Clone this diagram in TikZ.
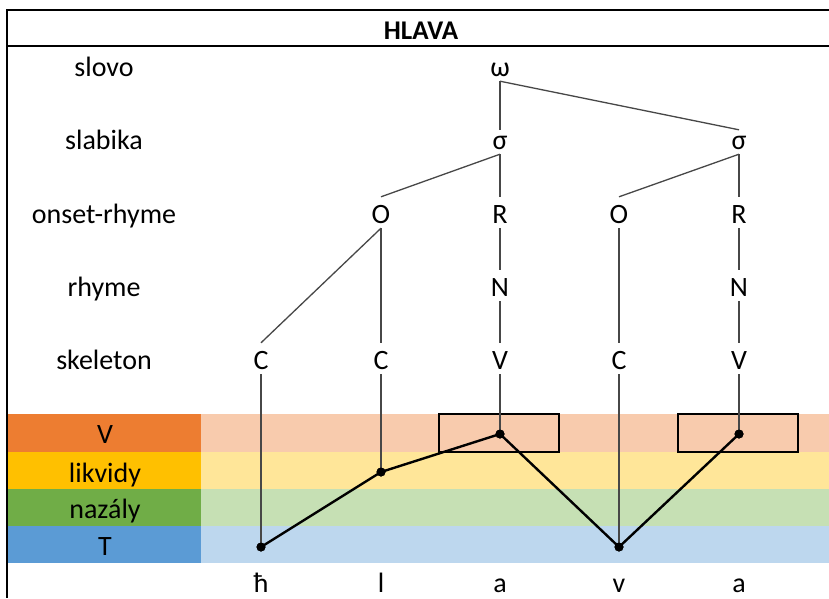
\documentclass[tikz,border=0pt]{standalone}
\usepackage{fontspec}
\setmainfont{Carlito}
\definecolor{vdark}{HTML}{ED7D31}\definecolor{vlight}{HTML}{F8CBAD}
\definecolor{ldark}{HTML}{FFC000}\definecolor{llight}{HTML}{FFE699}
\definecolor{ndark}{HTML}{70AD47}\definecolor{nlight}{HTML}{C6E0B4}
\definecolor{tdark}{HTML}{5B9BD5}\definecolor{tlight}{HTML}{BDD7EE}
\begin{document}
\begin{tikzpicture}[x=1pt,y=-1pt,
  font=\fontsize{28}{33}\selectfont,
  lab/.style={inner sep=0pt, anchor=base, text height=26pt, text depth=5pt},
  greek/.style={lab, text height=19pt},
  txt/.style={inner sep=0pt, anchor=base},
  tree/.style={draw=black!72, line width=1.3pt},
  pathline/.style={draw=black, line width=2.4pt, line join=round},
  dot/.style={circle, fill=black, inner sep=0pt, minimum size=9pt},
  vbox/.style={draw=black, line width=2.2pt, minimum width=120pt, minimum height=38pt, inner sep=0pt},
  border/.style={draw=black, line width=2pt}]
\useasboundingbox (0,0) rectangle (829,598);
\fill[white] (0,0) rectangle (829,598);
% bands
\fill[vdark] (8,414) rectangle (201,452); \fill[vlight] (201,414) rectangle (829,452);
\fill[ldark] (8,452) rectangle (201,489); \fill[llight] (201,452) rectangle (829,489);
\fill[ndark] (8,489) rectangle (201,526); \fill[nlight] (201,489) rectangle (829,526);
\fill[tdark] (8,526) rectangle (201,563); \fill[tlight] (201,526) rectangle (829,563);
% borders
\draw[border] (7,10) -- (829,10);
\draw[border] (7,46) -- (829,46);
\draw[border] (7,9) -- (7,598);
% title
\node[txt, font=\fontsize{27}{32}\selectfont\bfseries] (title) at (421,39) {HLAVA};
% row labels
\node[txt] (lslovo) at (104,76) {slovo};
\node[txt] (lslab) at (104,149) {slabika};
\node[txt] (lons) at (104,223) {onset-rhyme};
\node[txt] (lrhy) at (104,296) {rhyme};
\node[txt] (lske) at (104,369) {skeleton};
\node[txt] (lV) at (105,443) {V};
\node[txt] (llik) at (105,482) {likvidy};
\node[txt] (lnaz) at (105,518) {nazály};
\node[txt] (lT) at (105,555) {T};
% tree
\node[greek] (w) at (500,76) {ω};
\node[greek] (s1) at (500,149) {σ};
\node[greek] (s2) at (739,149) {σ};
\node[lab] (o1) at (381,223) {O};
\node[lab] (r1) at (500,223) {R};
\node[lab] (o2) at (619,223) {O};
\node[lab] (r2) at (739,223) {R};
\node[lab] (n1) at (500,296) {N};
\node[lab] (n2) at (739,296) {N};
\node[lab] (c1) at (261,369) {C};
\node[lab] (c2) at (381,369) {C};
\node[lab] (v1) at (500,369) {V};
\node[lab] (c3) at (619,369) {C};
\node[lab] (v2) at (739,369) {V};
% boxes
\node[vbox] (b1) at (499,433) {};
\node[vbox] (b2) at (738,433) {};
% dots
\node[dot] (d1) at (261,547) {};
\node[dot] (d2) at (381,472) {};
\node[dot] (d3) at (500,434) {};
\node[dot] (d4) at (619,547) {};
\node[dot] (d5) at (739,434) {};
% tree edges
\draw[tree] (w.south) -- (s1.north);
\draw[tree] (w.south) -- (s2.north);
\draw[tree] (s1.south) -- (o1.north);
\draw[tree] (s1.south) -- (r1.north);
\draw[tree] (s2.south) -- (o2.north);
\draw[tree] (s2.south) -- (r2.north);
\draw[tree] (r1.south) -- (n1.north);
\draw[tree] (r2.south) -- (n2.north);
\draw[tree] (o1.south) -- (c1.north);
\draw[tree] (o1.south) -- (c2.north);
\draw[tree] (n1.south) -- (v1.north);
\draw[tree] (o2.south) -- (c3.north);
\draw[tree] (n2.south) -- (v2.north);
\draw[tree] (c1.south) -- (d1.center);
\draw[tree] (c2.south) -- (d2.center);
\draw[tree] (v1.south) -- (d3.center);
\draw[tree] (c3.south) -- (d4.center);
\draw[tree] (v2.south) -- (d5.center);
% melody line
\draw[pathline] (d1.center) -- (d2.center) -- (d3.center) -- (d4.center) -- (d5.center);
\node[dot] at (d1) {};\node[dot] at (d2) {};\node[dot] at (d3) {};\node[dot] at (d4) {};\node[dot] at (d5) {};
% segments
\node[txt] (g1) at (261,592) {ħ};
\node[txt] (g2) at (381,592) {l};
\node[txt] (g3) at (500,592) {a};
\node[txt] (g4) at (619,592) {v};
\node[txt] (g5) at (739,592) {a};
\end{tikzpicture}
\end{document}
